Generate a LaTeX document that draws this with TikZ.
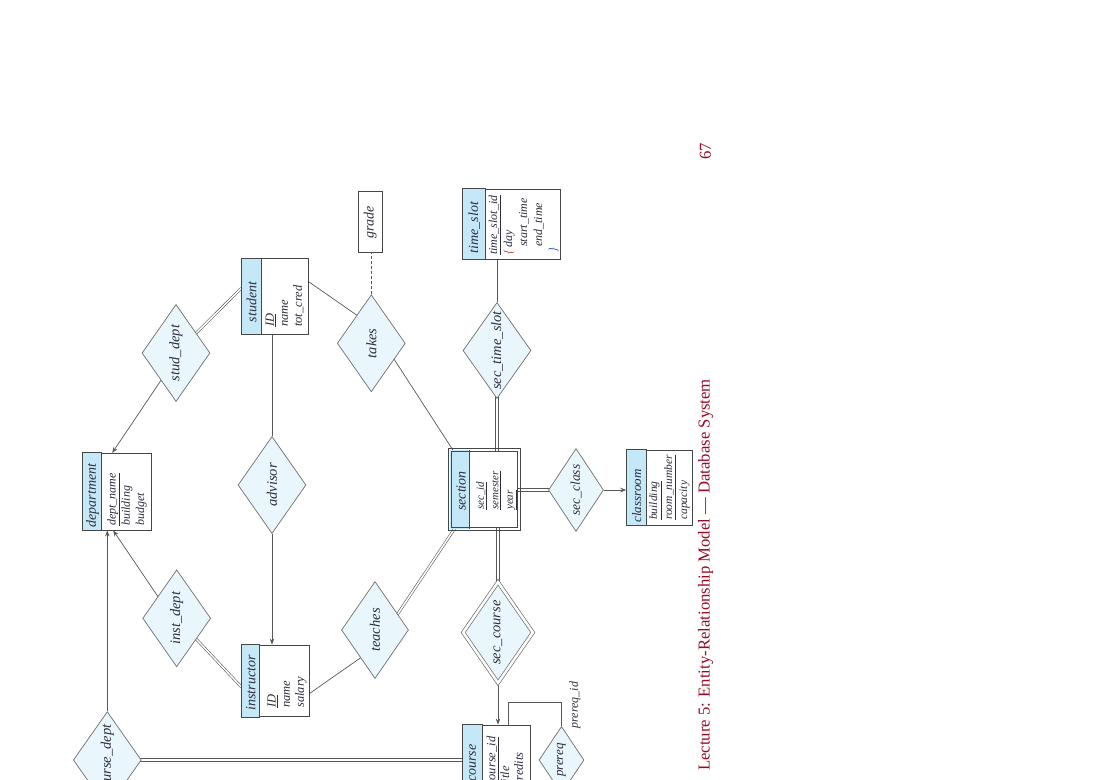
\documentclass[tikz,border=0pt]{standalone}
\usepackage{fontspec}
\setmainfont{Liberation Serif}
\usetikzlibrary{shapes.geometric,arrows.meta}
\pgfdeclarelayer{bg}
\pgfsetlayers{bg,main}
\definecolor{hdr}{RGB}{197,232,248}
\definecolor{dfill}{RGB}{233,246,252}
\definecolor{bline}{RGB}{70,70,70}
\definecolor{cline}{RGB}{88,88,88}
\definecolor{dline}{RGB}{110,110,110}
\definecolor{txt}{RGB}{45,45,60}
\definecolor{footred}{RGB}{155,10,35}
\definecolor{brred}{RGB}{175,70,45}
\definecolor{brblue}{RGB}{50,90,190}
\newcommand\erfont[2]{\fontsize{#1}{#2}\selectfont\itshape}
\begin{document}
\begin{tikzpicture}[x=1pt,y=-1pt,
  ent/.style={rectangle, draw=bline, line width=0.9pt, fill=white, inner sep=0pt},
  hdrbox/.style={fill=hdr, draw=bline, line width=0.9pt},
  htxt/.style={rotate=90, inner sep=0pt, font={\erfont{14}{16}}, text=txt},
  atxt/.style={rotate=90, inner sep=0pt, anchor=north west, align=left, text=txt},
  rel/.style={diamond, aspect=1.43, draw=dline, line width=0.7pt, fill=dfill, inner sep=0pt, rotate=90, font={\erfont{14.5}{16}}, text=txt},
  ln/.style={draw=cline, line width=0.7pt},
  thin/.style={draw=cline, line width=0.65pt},
  dbl/.style={draw=cline, line width=0.6pt, double=white, double distance=1.5pt},
  arr/.style={ln, -{Stealth[length=6pt,width=4.5pt]}},
  dsh/.style={ln, dash pattern=on 3pt off 2pt}]
\clip (0,0) rectangle (1100,779);

% ---------- entities ----------
\node[ent, minimum width=69pt, minimum height=76.7pt] (department) at (117.2,491.65) {};
\node[ent, minimum width=66.6pt, minimum height=75.5pt] (student) at (275,296.25) {};
\node[ent, minimum width=67.6pt, minimum height=71.7pt] (instructor) at (275.5,680.85) {};
\node[ent, draw=none, minimum width=68.3pt, minimum height=77.6pt] (section) at (484.15,489.5) {};
\node[ent, minimum width=66pt, minimum height=75pt] (classroom) at (659.7,487.5) {};
\node[ent, minimum width=98pt, minimum height=69.7pt] (timeslot) at (511.7,224.15) {};
\node[ent, minimum width=68pt, minimum height=76pt] (course) at (496.7,763) {};
\node[ent, rotate=90, minimum width=61pt, minimum height=24pt, font={\erfont{14}{16}}, text=txt] (grade) at (370.3,222.2) {grade};

\filldraw[hdrbox] (department.north west) rectangle ([xshift=19.6pt]department.south west);
\filldraw[hdrbox] (student.north west) rectangle ([xshift=20pt]student.south west);
\filldraw[hdrbox] (instructor.north west) rectangle ([xshift=18.3pt]instructor.south west);
\filldraw[hdrbox] (classroom.north west) rectangle ([xshift=20pt]classroom.south west);
\filldraw[hdrbox] (timeslot.north west) rectangle ([xshift=23pt]timeslot.south west);
\filldraw[hdrbox] (course.north west) rectangle ([xshift=20pt]course.south west);
\fill[hdr] (section.north west) rectangle ([xshift=20pt]section.south west);
\draw[bline, line width=0.9pt] ([xshift=20pt]section.north west) -- ([xshift=20pt]section.south west);
% double border of the weak entity
\draw[bline, line width=0.9pt] ([xshift=-1.6pt,yshift=1.6pt]section.north west) rectangle ([xshift=1.6pt,yshift=-1.6pt]section.south east);
\draw[bline, line width=0.9pt] ([xshift=1.6pt,yshift=-1.6pt]section.north west) rectangle ([xshift=-1.6pt,yshift=1.6pt]section.south east);

% headers
\node[htxt] (department-h) at (92.5,495.5) {department};
\node[htxt] (student-h) at (251.7,302) {student};
\node[htxt] (instructor-h) at (250.8,683) {instructor};
\node[htxt] (section-h) at (461,491) {section};
\node[htxt, font={\erfont{13}{15}}] (classroom-h) at (636.7,496) {classroom};
\node[htxt] (timeslot-h) at (474.2,227.5) {time\_slot};
\node[htxt] (course-h) at (472.7,763) {course};

% attributes
\node[atxt, font={\erfont{12}{14.2}}] (department-a) at (107.2,526) {\underline{dept\_name}\\building\\budget};
\node[atxt, font={\erfont{12.5}{14}}] (student-a) at (265.5,327) {\underline{ID}\\name\\tot\_cred};
\node[atxt, font={\erfont{12.5}{14.2}}] (instructor-a) at (267.2,708) {\underline{ID}\\name\\salary};
\node[atxt, font={\erfont{11}{14.5}}] (section-a) at (476,510) {\underline{sec\_id}\\\underline{semester}\\\underline{year}};
\node[atxt, font={\erfont{11.5}{15}}] (classroom-a) at (649,520) {\underline{building}\\\underline{room\_number}\\capacity};
\node[atxt, font={\erfont{12}{15}}] (timeslot-a) at (488.5,255) {\underline{time\_slot\_id}\\{\color{brred}\{}\hspace*{3pt}day\\\hspace*{8pt}start\_time\\\hspace*{8pt}end\_time\\\hspace*{2pt}{\color{brblue}\}}};
\node[atxt, font={\erfont{12.5}{13.8}}] (course-a) at (486.5,786) {\underline{course\_id}\\title\\credits};

% ---------- relationships ----------
\node[rel, minimum width=97pt, minimum height=68pt] (stud_dept) at (176,353) {stud\_dept};
\node[rel, minimum width=97pt, minimum height=68pt] (advisor) at (272,485) {advisor};
\node[rel, minimum width=97pt, minimum height=68pt] (inst_dept) at (176.7,618.3) {inst\_dept};
\node[rel, minimum width=97pt, minimum height=68pt] (takes) at (371.3,343.3) {takes};
\node[rel, minimum width=97pt, minimum height=67pt] (teaches) at (375,630) {teaches};
\node[rel, minimum width=96pt, minimum height=68pt] (sec_time_slot) at (497,350.5) {sec\_time\_slot};
\node[rel, minimum width=83pt, minimum height=55pt, font={\erfont{13.5}{15}}] (sec_class) at (576,490) {sec\_class};
\node[rel, minimum width=101pt, minimum height=70pt, double=white, double distance=2.5pt] (sec_course) at (498,632.5) {sec\_course};
\node[rel, minimum width=96.6pt, minimum height=68pt] (course_dept) at (107.3,760) {course\_dept};
\node[rel, minimum width=67pt, minimum height=45pt, font={\erfont{13}{14}}] (prereq) at (561.5,760) {prereq};
\node[rotate=90, inner sep=0pt, font={\erfont{12}{13}}, text=txt] (prereq-l) at (575,705) {prereq\_id};

% ---------- connectors ----------
\begin{pgfonlayer}{bg}
\fill[white] (0,0) rectangle (1100,779);
\draw[dbl] (stud_dept) -- ([yshift=8pt]student.west);
\draw[arr] ([yshift=-5pt]stud_dept.center) -- ([xshift=-5pt]department.north);
\draw[ln] (student.south -| advisor) -- (advisor);
\draw[arr] (advisor) -- (advisor |- instructor.north);
\draw[arr] ([yshift=-6pt]inst_dept.center) -- ([xshift=-4pt]department.south);
\draw[dbl] (inst_dept) -- ([yshift=-6pt]instructor.west);
\draw[ln] ([yshift=18pt]takes.center) -- ([yshift=14.5pt]student.east);
\draw[dsh] (takes) -- (takes |- grade.east);
\draw[ln] ([xshift=12.5pt]takes.center) -- ([xshift=3.5pt]section.north west);
\draw[ln] ([yshift=-17.7pt]teaches.center) -- ([yshift=-12.5pt]instructor.east);
\draw[dbl] ([xshift=12pt]teaches.center) -- ([xshift=5pt]section.south west);
\draw[ln] (sec_time_slot) -- (sec_time_slot |- timeslot.south);
% total participation (double lines), axis-parallel
\draw[thin] ([xshift=-1.2pt]sec_time_slot.center) -- ([xshift=-1.2pt]sec_time_slot.center |- section.center);
\draw[thin] ([xshift=1.2pt]sec_time_slot.center) -- ([xshift=1.2pt]sec_time_slot.center |- section.center);
\draw[thin] ([yshift=-1.2pt]sec_class.center) -- ([yshift=-1.2pt]sec_class.center -| section.center);
\draw[thin] ([yshift=1.2pt]sec_class.center) -- ([yshift=1.2pt]sec_class.center -| section.center);
\draw[thin] ([xshift=-1.2pt]sec_course.center) -- ([xshift=-1.2pt]sec_course.center |- section.center);
\draw[thin] ([xshift=1.2pt]sec_course.center) -- ([xshift=1.2pt]sec_course.center |- section.center);
\draw[thin] ([yshift=-1.2pt]course_dept.center) -- ([yshift=-1.2pt]course_dept.center -| course.center);
\draw[thin] ([yshift=1.2pt]course_dept.center) -- ([yshift=1.2pt]course_dept.center -| course.center);
\draw[arr] (sec_class) -- (sec_class -| classroom.west);
\draw[arr] (sec_course) -- (sec_course |- course.north);
\draw[arr] (course_dept) -- (course_dept |- department.south);
\coordinate (pqA) at (508.3,702.7);
\coordinate (pqB) at (561.5,702.7);
\draw[ln] (pqA |- course.north) -- (pqA) -- (pqB) -- (prereq);
\end{pgfonlayer}

% ---------- footer ----------
\node[rotate=90, inner sep=0pt, font={\fontsize{16.7}{20}\selectfont}, text=footred] (footer) at (705.5,575) {Lecture 5: Entity-Relationship Model --- Database System};
\node[rotate=90, inner sep=0pt, font={\fontsize{16.7}{20}\selectfont}, text=footred] (pagenum) at (705.5,151) {67};
\end{tikzpicture}
\end{document}
